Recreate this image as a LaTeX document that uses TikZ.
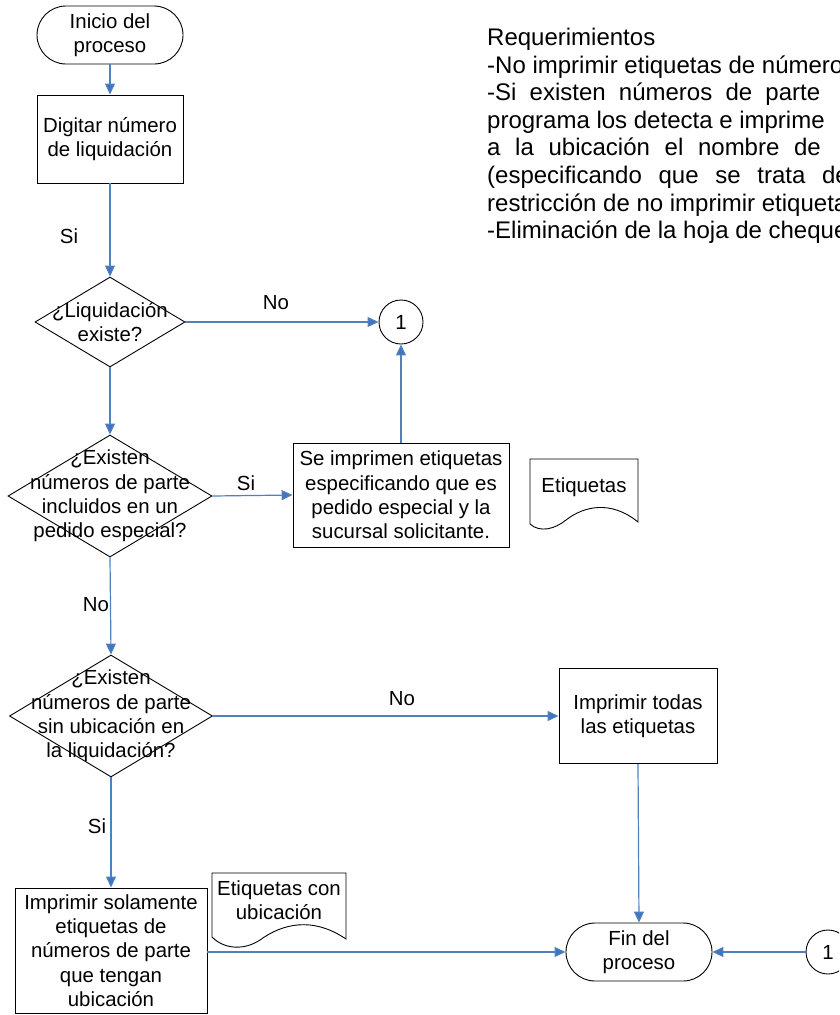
\documentclass[tikz,border=0pt]{standalone}
\usepackage{fontspec}
\setmainfont{Liberation Sans}
\usetikzlibrary{arrows.meta,shapes.geometric,calc}
\definecolor{flowblue}{RGB}{79,129,189}
\definecolor{headblue}{RGB}{68,114,196}
\begin{document}
\begin{tikzpicture}[x=1pt,y=-1pt,
  every node/.style={font=\fontsize{20.4}{24.2}\selectfont, inner sep=0pt, align=center},
  flow/.style={draw=flowblue, line width=1.2pt, -{Triangle[length=11pt,width=10pt,fill=headblue]}},
  outline/.style={draw=black, line width=0.9pt},
  procbox/.style={outline, rectangle, minimum width=#1},
  term/.style={outline, rectangle, rounded corners=29pt, minimum width=146pt, minimum height=58pt},
  decision/.style={outline, diamond, minimum width=#1},
  conn/.style={outline, circle, minimum size=44pt},
  lbl/.style={},
  req/.style={anchor=base west, align=left, font=\fontsize{24}{27.6}\selectfont}
]
\useasboundingbox (0,0) rectangle (839,1015);
\clip (0,0) rectangle (839,1015);

% ---- process nodes
\node[term] (start) at (110,35) {Inicio del\\proceso};
\node[procbox=146pt, minimum height=88pt] (dig) at (110,139) {Digitar número\\de liquidación};
\node[decision=150pt, minimum height=90pt] (d1) at (110,322) {};
\node (d1t) at (110,322) {¿Liquidación\\existe?};
\node[conn] (c1) at (401,322) {1};
\node[decision=204pt, minimum height=122pt] (d2) at (110,496) {};
\node (d2t) at (110,496) {¿Existen\\números de parte\\incluidos en un\\pedido especial?};
\node[procbox=216pt, minimum height=104pt] (esp) at (401,495) {Se imprimen etiquetas\\especificando que es\\pedido especial y la\\sucursal solicitante.};
\node[decision=203pt, minimum height=122pt] (d3) at (111,716) {};
\node (d3t) at (111,716) {¿Existen\\números de parte\\sin ubicación en\\la liquidación?};
\node[procbox=158pt, minimum height=95pt] (todas) at (638,716) {Imprimir todas\\las etiquetas};
\node[procbox=192pt, minimum height=125pt] (sol) at (111,950.5) {Imprimir solamente\\etiquetas de\\números de parte\\que tengan\\ubicación};
\node[term] (fin) at (639,952) {Fin del\\proceso};
\node[conn] (c2) at (828,952) {1};

% ---- printed documents (wavy bottom edge)
\draw[outline] (530,524) -- (530,459) -- (638,459) -- (638,522)
  .. controls (611,500) and (584,506) .. (566,520)
  .. controls (555,529) and (540,533) .. cycle;
\node (doc1) at (584,487) {Etiquetas};
\draw[outline] (212,937) -- (212,873) -- (346,873) -- (346,939)
  .. controls (312,916) and (282,924) .. (260,940)
  .. controls (245,950) and (225,950) .. cycle;
\node (doc2) at (279,900) {Etiquetas con\\ubicación};

% ---- connectors
\draw[flow] (start) -- (dig);
\draw[flow] (dig) -- (d1);
\draw[flow] (d1.east) -- (c1.west);
\draw[flow] (d1.south) -- (d2.north);
\draw[flow] (d2.east) -- (esp.west);
\draw[flow] (esp.north) -- (c1.south);
\draw[flow] (d2.south) -- (d3.north);
\draw[flow] (d3.east) -- (todas.west);
\draw[flow] (d3.south) -- (sol.north);
\draw[flow] (todas.south) -- (fin.north);
\draw[flow] (sol.east |- fin.west) -- (fin.west);
\draw[flow] (c2.west) -- (fin.east);

% ---- connector labels
\node[lbl] (l1) at (69,236) {Si};
\node[lbl] (l2) at (276,303) {No};
\node[lbl] (l3) at (246,483) {Si};
\node[lbl] (l4) at (96,605) {No};
\node[lbl] (l5) at (402,699) {No};
\node[lbl] (l6) at (97,826) {Si};

% ---- requirements note (justified paragraph running past the right edge)
\node[req] (r1) at (487,45.5) {Requerimientos};
\node[req] (r2) at (487,73.1) {-No imprimir etiquetas de números};
\node[req] (r3) at (487,100.7) {\spaceskip=13.2pt -Si existen números de parte};
\node[req] (r4) at (487,128.3) {programa los detecta e imprime};
\node[req] (r5) at (487,155.9) {\spaceskip=14.7pt a la ubicación el nombre de};
\node[req] (r6) at (487,183.5) {\spaceskip=16.7pt (especificando que se trata de};
\node[req] (r7) at (487,211.1) {restricción de no imprimir etiquetas};
\node[req] (r8) at (487,238.7) {-Eliminación de la hoja de chequeo};
\end{tikzpicture}
\end{document}
